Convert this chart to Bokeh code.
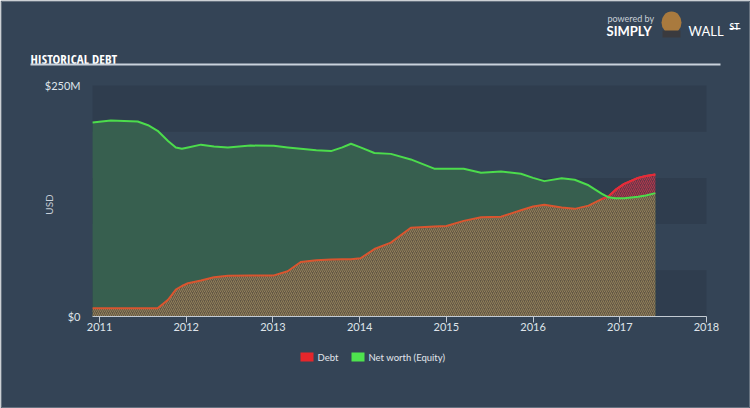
import numpy as np
from bokeh.plotting import figure
from bokeh.models import Range1d, FixedTicker
from bokeh.core.properties import value
from bokeh.embed import file_html
from bokeh.resources import INLINE

# ---- data (USD millions) ----
years = [2010.92, 2011.13, 2011.44, 2011.56, 2011.67, 2011.79, 2011.88, 2011.95, 2012.02,
         2012.17, 2012.32, 2012.48, 2012.74, 2013.01, 2013.17, 2013.32, 2013.50, 2013.67,
         2013.80, 2013.90, 2014.01, 2014.17, 2014.36, 2014.59, 2014.86, 2015.00, 2015.20,
         2015.40, 2015.63, 2015.86, 2016.00, 2016.13, 2016.33, 2016.48, 2016.64, 2016.79,
         2016.87, 2016.95, 2017.05, 2017.21, 2017.30, 2017.41]
equity = [210, 212, 211, 207, 201, 190, 183, 181.5, 183, 186, 184, 183, 185, 184.7, 183,
          181.5, 180, 179, 183, 187, 183, 177, 176, 170, 160, 160, 160, 155.5, 157, 154.5,
          150, 146.5, 149.5, 148, 142, 133, 129, 128, 128, 129.5, 131, 133.5]
debt = [9, 9, 9, 9, 9, 18, 29, 33, 36, 39, 42.5, 44, 44.3, 44.5, 49, 59, 61, 61.7, 62, 62,
        63, 73, 80, 96, 97.5, 98, 103.5, 107.5, 108, 115, 119, 121, 118, 116.5, 120, 127,
        130, 137, 143.5, 150, 152, 153.7]
tick_years = [2011, 2012, 2013, 2014, 2015, 2016, 2017, 2018]
tick_labels = ["2011", "2012", "2013", "2014", "2015", "2016", "2017", "2018"]
y_ticks = [0, 250]
y_labels = ["$0", "$250M"]
band_bottoms = [0, 100, 200]
band_tops = [50, 150, 250]
series_names = ["Debt", "Net worth (Equity)"]
legend_colors = ["#e5262b", "#4ee44e"]

x = np.array(years)
eq = np.array(equity, dtype=float)
db = np.array(debt, dtype=float)
low = np.minimum(db, eq)

# ---- layout constants (pixels) ----
W, H, B = 750, 408, 1                      # canvas and a 1px border
PL, PR, PT, PB = 92, 706, 85, 316          # plot box on the canvas
X0, X1, Y0, Y1 = 2010.919, 2018.0, 0.0, 250.0
kx = (X1 - X0) / (PR - PL)
ky = (Y1 - Y0) / (PB - PT)
xr = Range1d(X0 - (PL - B) * kx, X1 + (W - B - PR) * kx)
yr = Range1d(Y0 - (H - B - PB) * ky, Y1 + (PT - B) * ky)

BG = "#344456"
FONT = "Lato"

p = figure(width=W, height=H, output_backend="svg", toolbar_location=None,
           x_range=xr, y_range=yr,
           min_border=B, min_border_left=B, min_border_right=B,
           min_border_top=B, min_border_bottom=B)
p.extra_x_ranges = {"px": Range1d(B, W - B)}
p.extra_y_ranges = {"py": Range1d(H - B, B)}
p.background_fill_color = BG
p.border_fill_color = BG
p.outline_line_color = None
p.grid.visible = False

# background bands
p.quad(left=X0, right=X1, bottom=band_bottoms, top=band_tops, fill_color="#2f3d4e",
       line_color=None)

# areas
p.varea(x=x, y1=0, y2=eq, fill_color="#375f4f", fill_alpha=1)
p.varea(x=x, y1=0, y2=low, fill_color="#615745", hatch_pattern="/", hatch_color="#927f59",
        hatch_scale=4, hatch_weight=1)
p.varea(x=x, y1=low, y2=db, fill_color="#6a3446", hatch_pattern="/", hatch_color="#b03a4e",
        hatch_scale=4, hatch_weight=1)

# lines
p.line(x, db, line_color="#d9552f", line_width=2, line_join="round")
idx = np.where(db >= eq)[0]
if len(idx):
    s = max(idx[0] - 1, 0)
    p.line(x[s:], db[s:], line_color="#e8283a", line_width=2, line_join="round")
p.line(x, eq, line_color="#4cdc4c", line_width=2, line_join="round")

# x axis
xa = p.xaxis[0]
xa.fixed_location = Y0
xa.bounds = (X0, X1)
xa.ticker = FixedTicker(ticks=tick_years)
xa.major_label_overrides = {t: l for t, l in zip(tick_years, tick_labels)}
xa.axis_line_color = "#c3cbd3"
xa.major_tick_line_color = "#c3cbd3"
xa.major_tick_out = 6
xa.major_tick_in = 0
xa.minor_tick_line_color = None
xa.major_label_standoff = 0
xa.major_label_text_color = "#dfe4ea"
xa.major_label_text_font = FONT
xa.major_label_text_font_size = "11px"

# y axis
ya = p.yaxis[0]
ya.fixed_location = X0
ya.ticker = FixedTicker(ticks=y_ticks)
ya.major_label_overrides = {t: l for t, l in zip(y_ticks, y_labels)}
ya.axis_line_color = None
ya.major_tick_line_color = None
ya.minor_tick_line_color = None
ya.major_tick_out = 0
ya.major_label_standoff = 12
ya.major_label_text_color = "#dfe4ea"
ya.major_label_text_font = FONT
ya.major_label_text_font_size = "11px"
ya.axis_label = "USD"
ya.axis_label_text_color = "#c8cfd8"
ya.axis_label_text_font = FONT
ya.axis_label_text_font_style = "normal"
ya.axis_label_text_font_size = "10px"
ya.axis_label_standoff = -13

# ---- header (pixel coordinates) ----
px = dict(x_range_name="px", y_range_name="py")
p.text(x=[30], y=[58], text=["HISTORICAL DEBT"],
       text_font=value("'Open Sans Condensed', 'Roboto Condensed', 'Liberation Sans Narrow', "
                       "'DejaVu Sans Condensed', sans-serif"),
       text_font_style="bold", text_font_size="13px", text_color="#ffffff",
       text_baseline="alphabetic", **px)
p.quad(left=[30], right=[720], top=[63], bottom=[65], fill_color="#c9d2dc", line_color=None, **px)
p.text(x=[607], y=[18], text=["powered by"], text_font=value(FONT), text_font_size="9px",
       text_color="#c8d0d8", text_baseline="alphabetic", **px)
p.text(x=[606], y=[30], text=["SIMPLY"], text_font=value(FONT), text_font_style="bold",
       text_font_size="13px", text_color="#ffffff", text_baseline="alphabetic", **px)
p.ellipse(x=[671], y=[22], width=[20], height=[22], fill_color="#a97a3e", line_color=None, **px)
p.quad(left=[662], right=[680], top=[30], bottom=[37], fill_color="#3a3a3e", line_color=None, **px)
p.text(x=[688], y=[30], text=["WALL"], text_font=value(FONT), text_font_size="13px",
       text_color="#ffffff", text_baseline="alphabetic", **px)
p.text(x=[729], y=[26], text=["ST"], text_font=value(FONT), text_font_style="bold",
       text_font_size="8.5px", text_color="#ffffff", text_baseline="alphabetic", **px)
p.quad(left=[729], right=[740], top=[27.5], bottom=[28.7], fill_color="#ffffff",
       line_color=None, **px)

# ---- legend (pixel coordinates) ----
leg_x = [300, 351]
p.quad(left=leg_x, right=[v + 13 for v in leg_x], top=[352] * 2, bottom=[361] * 2,
       fill_color=legend_colors, line_color=None, **px)
p.text(x=[v + 17 for v in leg_x], y=[356.5] * 2, text=series_names, text_font=value(FONT),
       text_font_size="9.5px", text_color="#e2e6ec", text_baseline="middle", **px)

open("out.html", "w").write(file_html(p, INLINE))
